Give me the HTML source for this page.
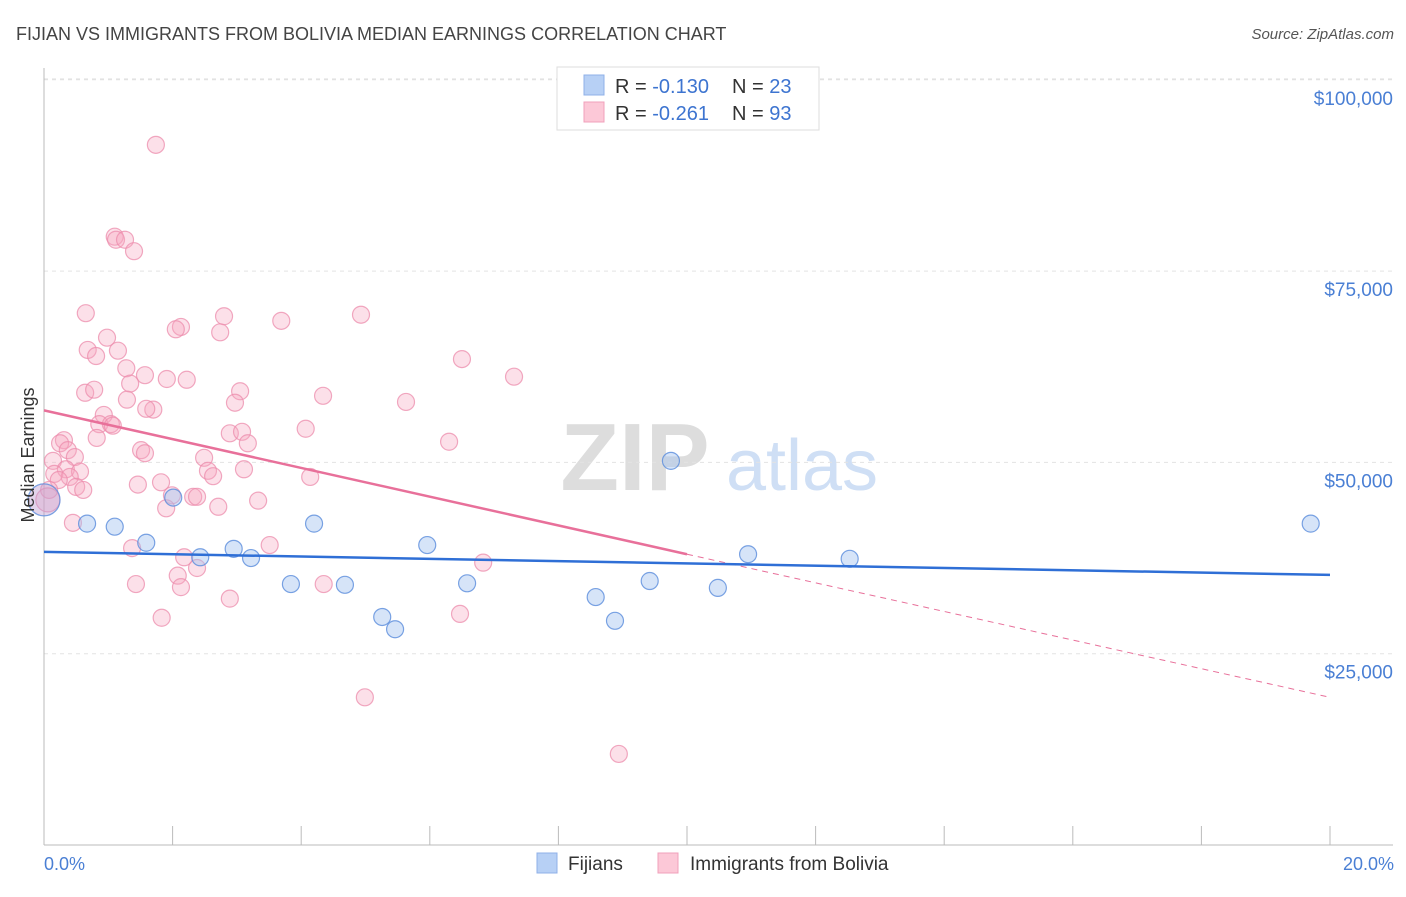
<!DOCTYPE html>
<html><head><meta charset="utf-8"><style>
body{margin:0;background:#fff;font-family:"Liberation Sans",sans-serif;}
svg text{font-family:"Liberation Sans",sans-serif;}
</style></head><body>
<svg id="chart" width="1406" height="892" viewBox="0 0 1406 892">
<text x="16" y="40" font-size="18" fill="#444">FIJIAN VS IMMIGRANTS FROM BOLIVIA MEDIAN EARNINGS CORRELATION CHART</text>
<text x="1394" y="39" font-size="15" fill="#555" font-style="italic" text-anchor="end">Source: ZipAtlas.com</text>
<g>
<text x="635" y="490" font-size="96" fill="#ddd" font-family="Liberation Serif" text-anchor="middle" font-weight="bold">ZIP</text>
<text x="802" y="490" font-size="72" fill="#cfdff5" text-anchor="middle">atlas</text>
</g>
<g id="grid"></g>
<g id="axes"></g>
<g id="marks"></g>
<g id="lines"></g>
<text transform="translate(34,455) rotate(-90)" font-size="18" fill="#333" text-anchor="middle">Median Earnings</text>
<text x="44" y="870" font-size="18" fill="#4a7fd4">0.0%</text>
<text x="1394" y="870" font-size="18" fill="#4a7fd4" text-anchor="end">20.0%</text>
<g>
<rect x="557" y="67" width="262" height="63" fill="#fff" stroke="#ddd"/>
<rect x="584" y="75" width="20" height="20" fill="#b7d0f5" stroke="#8fb0e8"/>
<rect x="584" y="102" width="20" height="20" fill="#fcc8d7" stroke="#f0a0bb"/>
<text x="615" y="93" font-size="20" fill="#333">R = <tspan fill="#3d74d0">-0.130</tspan></text>
<text x="732" y="93" font-size="20" fill="#333">N = <tspan fill="#3d74d0">23</tspan></text>
<text x="615" y="120" font-size="20" fill="#333">R = <tspan fill="#3d74d0"> -0.261</tspan></text>
<text x="732" y="120" font-size="20" fill="#333">N = <tspan fill="#3d74d0">93</tspan></text>
</g>
<g>
<rect x="537" y="853" width="20" height="20" fill="#b7d0f5" stroke="#8fb0e8"/>
<text x="568" y="870" font-size="19" fill="#333">Fijians</text>
<rect x="658" y="853" width="20" height="20" fill="#fcc8d7" stroke="#f0a0bb"/>
<text x="690" y="870" font-size="19" fill="#333">Immigrants from Bolivia</text>
</g>
</svg>
<script>
const yTicks=[25000,50000,75000,100000];
const yTickLabels=["$25,000","$50,000","$75,000","$100,000"];
const xTicks=[0,2,4,6,8,10,12,14,16,18,20];
const fijiX=[0.00,0.67,1.10,1.59,2.01,2.43,2.95,3.22,3.84,4.20,4.68,5.26,5.46,5.96,6.58,8.58,8.88,9.42,9.75,10.48,10.95,12.53,19.70];
const fijiY=[45.1,42.0,41.6,39.5,45.4,37.6,38.7,37.5,34.1,42.0,34.0,29.8,28.2,39.2,34.2,32.4,29.3,34.5,50.2,33.6,38.0,37.4,42.0];
const boliX=[1.74,1.10,1.12,1.26,1.40,0.65,2.80,3.69,4.93,2.13,2.05,2.74,0.98,0.68,1.15,0.81,6.50,1.28,1.57,1.91,2.22,7.31,1.34,3.05,0.64,0.78,4.34,5.63,1.29,2.97,1.70,1.59,0.93,0.86,1.04,1.07,4.07,2.89,3.08,0.82,0.31,0.25,3.17,6.30,1.51,1.57,0.37,0.48,0.14,2.49,3.11,0.34,0.56,0.16,0.40,2.55,2.63,4.14,0.23,1.82,1.46,0.50,0.61,1.99,2.32,2.38,3.33,1.90,2.71,0.45,1.37,3.51,2.18,2.38,6.83,2.08,2.13,1.43,4.35,2.89,6.47,1.83,4.99,8.94,0.08,0.06];
const boliY=[91.5,79.5,79.1,79.1,77.6,69.5,69.1,68.5,69.3,67.7,67.4,67.0,66.3,64.7,64.6,63.9,63.5,62.3,61.4,60.9,60.8,61.2,60.3,59.3,59.1,59.5,58.7,57.9,58.2,57.8,56.9,57.0,56.2,55.0,55.0,54.8,54.4,53.8,54.0,53.2,52.9,52.5,52.5,52.7,51.6,51.2,51.6,50.7,50.2,50.6,49.1,49.1,48.8,48.5,48.1,48.9,48.2,48.1,47.7,47.4,47.1,46.8,46.4,45.7,45.5,45.5,45.0,44.0,44.2,42.1,38.8,39.2,37.6,36.2,36.9,35.2,33.7,34.1,34.1,32.2,30.2,29.7,19.3,11.9,46.4,45.1];
const fijiTrend=[[0,38.3],[20,35.3]];
const boliTrendSolid=[[0,56.8],[10,38.0]];
const boliTrendDash=[[10,38.0],[20,19.3]];
const NS="http://www.w3.org/2000/svg";
const sx=v=>44+v*64.3;
const sy=v=>845-v*7.652;   // v in thousands
const syD=v=>sy(v/1000);
function mk(tag,attrs,parent){const e=document.createElementNS(NS,tag);for(const k in attrs)e.setAttribute(k,attrs[k]);parent.appendChild(e);return e;}
const grid=document.getElementById('grid'),axes=document.getElementById('axes'),marks=document.getElementById('marks'),lines=document.getElementById('lines');
let g0=mk('line',{x1:44,x2:1393,y1:79,y2:79,stroke:'#ddd','stroke-dasharray':'4,4'},grid);


yTicks.forEach((t,i)=>{
 const l=mk('line',{x1:44,x2:1393,y1:syD(t),y2:syD(t),stroke:'#e3e3e3','stroke-dasharray':'4,4'},grid);
 
 
 const tx=mk('text',{x:1393,y:syD(t)+25,'font-size':19,fill:'#4a7fd4','text-anchor':'end'},axes);
 tx.textContent=yTickLabels[i];
 
 
});
let ya=mk('line',{x1:44,x2:44,y1:68,y2:845,stroke:'#bbb'},axes);


let xa=mk('line',{x1:44,x2:1393,y1:845,y2:845,stroke:'#bbb'},axes);


xTicks.forEach(t=>{
 const l=mk('line',{x1:sx(t),x2:sx(t),y1:826,y2:845,stroke:'#bbb'},axes);
 
 
});
boliX.forEach((x,i)=>{
 const big=i===boliX.length-1;
 const c=mk('circle',{cx:sx(x),cy:sy(boliY[i]),r:big?12:8.5,fill:'rgba(245,165,192,0.35)',stroke:'rgba(236,140,172,0.75)','stroke-width':1.2},marks);
 
 
});
fijiX.forEach((x,i)=>{
 const big=i===0;
 const c=mk('circle',{cx:sx(x),cy:sy(fijiY[i]),r:big?16:8.5,fill:big?'rgba(190,160,210,0.45)':'rgba(165,195,240,0.45)',stroke:'rgba(90,140,220,0.8)','stroke-width':1.2},marks);
 
 
});
function seg(p,attrs,name){const l=mk('line',Object.assign({x1:sx(p[0][0]),y1:sy(p[0][1]),x2:sx(p[1][0]),y2:sy(p[1][1])},attrs),lines);
 
 }
seg(boliTrendDash,{stroke:'#e8709a','stroke-width':1,'stroke-dasharray':'6,5'},'bolivia-trend-extension');
seg(boliTrendSolid,{stroke:'#e8709a','stroke-width':2.5},'bolivia-trend-line');
seg(fijiTrend,{stroke:'#2f6fd6','stroke-width':2.5},'fijian-trend-line');
</script>
</body></html>
